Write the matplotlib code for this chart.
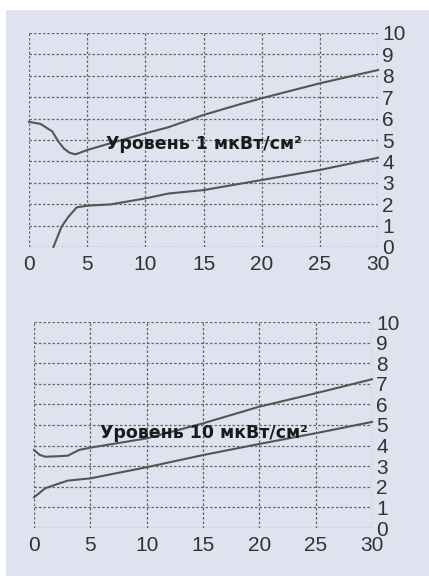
import matplotlib
matplotlib.use("Agg")
import matplotlib.pyplot as plt
from matplotlib.patches import Rectangle

# Top panel data (Уровень 1 мкВт/см²)
top_upper_x = [0, 1, 2, 2.5, 3, 3.5, 4, 5, 7, 10, 12, 15, 18, 20, 25, 30]
top_upper_y = [5.85, 5.75, 5.4, 4.95, 4.6, 4.4, 4.33, 4.53, 4.85, 5.31, 5.6, 6.17, 6.65, 6.95, 7.65, 8.27]
top_lower_x = [2.1, 2.8, 3.4, 4.1, 5, 7, 10, 12, 15, 20, 25, 30]
top_lower_y = [0.0, 0.95, 1.42, 1.85, 1.93, 1.99, 2.27, 2.5, 2.66, 3.13, 3.6, 4.17]

# Bottom panel data (Уровень 10 мкВт/см²)
bot_upper_x = [0, 0.5, 1, 2, 3, 4, 5, 10, 15, 20, 25, 30]
bot_upper_y = [3.79, 3.55, 3.46, 3.48, 3.51, 3.79, 3.9, 4.35, 5.08, 5.89, 6.54, 7.22]
bot_lower_x = [0, 1, 2, 3, 5, 10, 15, 20, 25, 30]
bot_lower_y = [1.49, 1.93, 2.12, 2.3, 2.41, 2.95, 3.54, 4.08, 4.6, 5.15]

x_ticks = [0, 5, 10, 15, 20, 25, 30]
y_ticks = list(range(0, 11))
labels = ["Уровень 1 мкВт/см²", "Уровень 10 мкВт/см²"]
label_pos = [(15.0, 4.81), (15.1, 4.63)]

BG = "#dfe2ef"
LINE = "#555555"
TXT = "#333333"

fig = plt.figure(figsize=(4.29, 5.76), dpi=100)
fig.patch.set_facecolor("white")
fig.patches.append(Rectangle((6 / 429, 0), 1 - 6 / 429, 1 - 10 / 576,
                             transform=fig.transFigure, facecolor=BG,
                             edgecolor="none", zorder=-10))

positions = [
    [29 / 429, 1 - 247 / 576, 349 / 429, 214 / 576],
    [34 / 429, 1 - 528 / 576, 338 / 429, 206 / 576],
]
series = [
    [(top_upper_x, top_upper_y), (top_lower_x, top_lower_y)],
    [(bot_upper_x, bot_upper_y), (bot_lower_x, bot_lower_y)],
]

for pos, ser, lab, lp in zip(positions, series, labels, label_pos):
    ax = fig.add_axes(pos)
    ax.set_facecolor("none")
    for s in ax.spines.values():
        s.set_visible(False)
    ax.set_xlim(0, 30)
    ax.set_ylim(0, 10)
    ax.set_xticks(x_ticks)
    ax.set_yticks(y_ticks)
    ax.yaxis.tick_right()
    ax.tick_params(axis="both", length=0, labelsize=15, labelcolor=TXT)
    ax.tick_params(axis="x", pad=6)
    ax.tick_params(axis="y", pad=3)
    for t in ax.get_xticklabels() + ax.get_yticklabels():
        t.set_family("Liberation Sans")
    ax.grid(True, linestyle=(0, (2, 1.6)), color="#666666", linewidth=0.9)
    ax.set_axisbelow(True)
    for xs, ys in ser:
        ax.plot(xs, ys, color=LINE, linewidth=1.5, clip_on=False)
    ax.text(lp[0], lp[1], lab, ha="center", va="center", fontsize=12.5,
            fontweight="bold", family="DejaVu Sans", color="#1a1a1a")

fig.savefig("out.png", dpi=100, facecolor=fig.get_facecolor())
